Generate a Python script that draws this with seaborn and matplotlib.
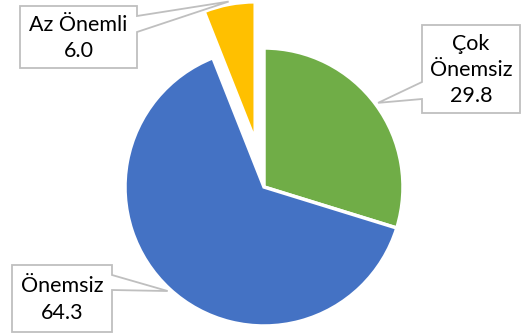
import numpy as np
import matplotlib
matplotlib.use("Agg")
import matplotlib.pyplot as plt
from matplotlib.patches import Polygon
import seaborn as sns

# Data
categories = ["Çok Önemsiz", "Önemsiz", "Az Önemli"]
label_text = ["Çok\nÖnemsiz", "Önemsiz", "Az Önemli"]
values = [29.8, 64.3, 6.0]
colors = ["#70AD47", "#4472C4", "#FFC000"]

W, H = 522, 336
sns.set_theme(style="white")
plt.rcParams["font.family"] = ["Lato", "DejaVu Sans"]

fig = plt.figure(figsize=(W / 100, H / 100), dpi=100)
ax = fig.add_axes([0, 0, 1, 1])

# Pie geometry in pixel-like units (y up)
cx, cy, R = 264, H - 187, 139
explode = [0, 0, 47]
wedges, _ = ax.pie(
    values, colors=colors, startangle=90, counterclock=False,
    center=(cx, cy), radius=R, explode=explode,
    wedgeprops=dict(edgecolor="white", linewidth=2.5),
)
ax.set_xlim(0, W)
ax.set_ylim(0, H)
ax.set_aspect("equal")
ax.axis("off")

# Callout boxes: (left, right, top, bottom) in pixels from the top, side of pointer, pointer base
callouts = [
    (422, 520, 25, 113, "left", (82, 99)),
    (12, 112, 265, 332, "right", (275, 290)),
    (20, 137, 6, 68, "right", (16, 32)),
]

for w, txt, val, (x0, x1, t, b, side, (b0, b1)) in zip(wedges, label_text, values, callouts):
    mid = np.deg2rad((w.theta1 + w.theta2) / 2)
    wx, wy = w.center
    tip = (wx + 1.02 * w.r * np.cos(mid), wy + 1.02 * w.r * np.sin(mid))
    yt, yb = H - t, H - b
    if side == "right":
        pts = [(x0, yt), (x1, yt), (x1, H - b0), tip, (x1, H - b1), (x1, yb), (x0, yb)]
    else:
        pts = [(x0, yt), (x1, yt), (x1, yb), (x0, yb), (x0, H - b1), tip, (x0, H - b0)]
    ax.add_patch(Polygon(pts, closed=True, facecolor="white", edgecolor="#BFBFBF",
                         linewidth=1.3, zorder=5))
    ax.text((x0 + x1) / 2, (yt + yb) / 2 - 1, f"{txt}\n{val:.1f}", ha="center", va="center",
            fontsize=15.5, color="#000000", linespacing=1.4, zorder=6)

fig.savefig("out.png", dpi=100, facecolor="white")
